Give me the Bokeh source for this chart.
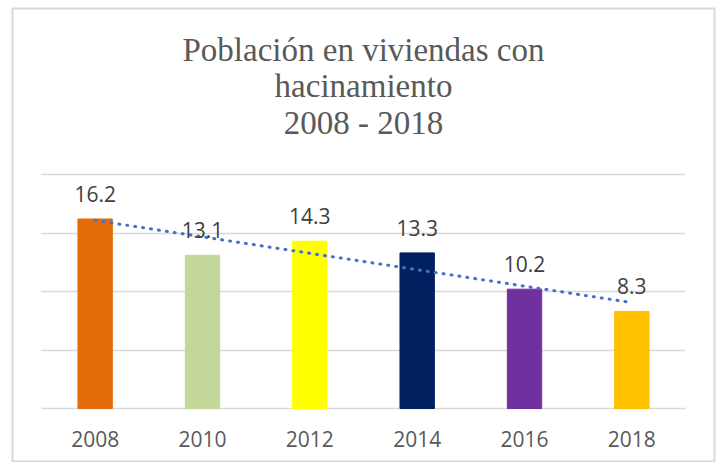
import numpy as np
from bokeh.plotting import figure
from bokeh.models import ColumnDataSource, FixedTicker, Grid, Label, Range1d
from bokeh.core.properties import value
from bokeh.embed import file_html
from bokeh.resources import INLINE

years = ["2008", "2010", "2012", "2014", "2016", "2018"]
values = [16.2, 13.1, 14.3, 13.3, 10.2, 8.3]
colors = ["#E36C0A", "#C4D79B", "#FFFF00", "#002060", "#7030A0", "#FFC000"]
labels = ["16.2", "13.1", "14.3", "13.3", "10.2", "8.3"]
y_ticks = [0, 5, 10, 15, 20]
title_lines = ["Población en viviendas con", "hacinamiento", "2008 - 2018"]

# linear trend line (least squares over the series)
idx = np.arange(len(values))
slope, intercept = np.polyfit(idx, values, 1)
trend = list(slope * idx + intercept)

src = ColumnDataSource(dict(x=years, top=values, color=colors, label=labels, trend=trend))

# the chart box (light grey border) is the plot frame; the value axis spans 0-20
p = figure(x_range=years, y_range=Range1d(-4.615, 34.19), width=717, height=462,
           output_backend="svg", toolbar_location=None, tools="",
           y_axis_location=None,
           min_border_left=12, min_border_right=3, min_border_top=8, min_border_bottom=0)
p.outline_line_color = "#d9d9d9"
p.outline_line_width = 2
p.background_fill_color = "white"
p.border_fill_color = "white"
p.x_range.range_padding = 0.09

# drop default grids, add a value grid limited to 0-20 and to the category span
p.center = [r for r in p.center if not isinstance(r, Grid)]
grid = Grid(dimension=1, ticker=FixedTicker(ticks=y_ticks), cross_bounds=(0, len(years)),
            grid_line_color="#d9d9d9", grid_line_width=1.5)
p.add_layout(grid)

title_y = [30.62, 27.54, 24.44]
for txt, ty in zip(title_lines, title_y):
    p.add_layout(Label(x=len(years) / 2, y=ty, text=txt, text_align="center",
                       text_baseline="alphabetic", text_font="Liberation Serif",
                       text_font_size="33px", text_color="#595959"))

p.vbar(x="x", top="top", width=0.32, color="color", source=src)

p.line(x="x", y="trend", source=src, line_color="#4472C4", line_width=3,
       line_dash="1 7", line_cap="round")

p.text(x="x", y="top", text="label", source=src, y_offset=-25,
       text_align="center", text_baseline="middle",
       text_font=value("Open Sans"), text_font_size="21px", text_color="#404040")

ax = p.xaxis[0]
ax.fixed_location = 0
ax.axis_line_color = None
ax.major_tick_line_color = None
ax.minor_tick_line_color = None
ax.major_label_text_font = "Open Sans"
ax.major_label_text_font_size = "21px"
ax.major_label_text_color = "#595959"
ax.major_label_standoff = 16

open("out.html", "w").write(file_html(p, INLINE))
